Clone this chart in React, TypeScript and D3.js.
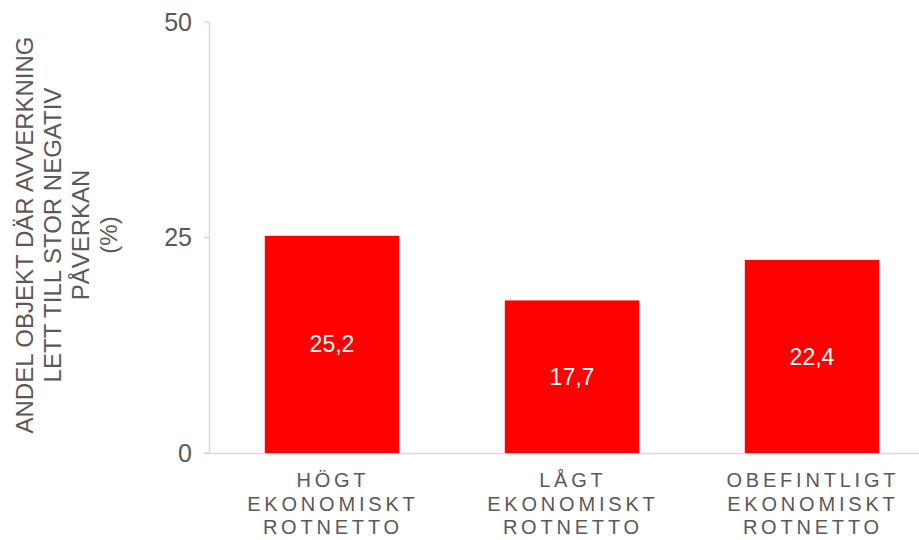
import React from 'react';
import * as d3 from 'd3';

const categories = ['HÖGT EKONOMISKT ROTNETTO', 'LÅGT EKONOMISKT ROTNETTO', 'OBEFINTLIGT EKONOMISKT ROTNETTO'];
const categoryLines = [
  ['HÖGT', 'EKONOMISKT', 'ROTNETTO'],
  ['LÅGT', 'EKONOMISKT', 'ROTNETTO'],
  ['OBEFINTLIGT', 'EKONOMISKT', 'ROTNETTO']
];
const values = [25.2, 17.7, 22.4];
const yTicks = [0, 25, 50];
const yTitleLines = ['ANDEL OBJEKT DÄR AVVERKNING', 'LETT TILL STOR NEGATIV', 'PÅVERKAN', '(%)'];

const width = 919;
const height = 540;
const font = '"Liberation Sans", Arial, sans-serif';
const gray = '#595959';
const axisColor = '#d9d9d9';

const App: React.FC = () => {
  const x = d3.scaleBand<string>()
    .domain(categories)
    .range([212, 932])
    .paddingInner(0.44)
    .paddingOuter(0.22);

  const y = d3.scaleLinear()
    .domain([0, 50])
    .range([453, 22]);

  const fmt = (v: number) => v.toFixed(1).replace('.', ',');
  const spacing = 3.8;

  return (
    <svg width={width} height={height} style={{ display: 'block', position: 'absolute', left: 0, top: 0, background: 'white' }}>
      {/* y axis */}
      <line x1={209.5} x2={209.5} y1={y(50)} y2={y(0)} stroke={axisColor} strokeWidth={1.5} />
      {yTicks.map(t => (
        <g key={t}>
          <line x1={204} x2={209.5} y1={y(t)} y2={y(t)} stroke={axisColor} strokeWidth={1.5} />
          <text x={192} y={y(t)} dy="0.35em" textAnchor="end" fontFamily={font} fontSize={25} fill={gray}>{t}</text>
        </g>
      ))}
      {/* x axis */}
      <line x1={204} x2={width} y1={y(0) + 0.5} y2={y(0) + 0.5} stroke={axisColor} strokeWidth={1.5} />

      {/* bars */}
      {categories.map((c, i) => (
        <g key={c}>
          <rect x={x(c)} y={y(values[i])} width={x.bandwidth()} height={y(0) - y(values[i])} fill="#ff0000" />
          <text
            x={(x(c) ?? 0) + x.bandwidth() / 2}
            y={(y(values[i]) + y(0)) / 2}
            dy="0.35em"
            textAnchor="middle"
            fontFamily={font}
            fontSize={23}
            fill="white"
          >{fmt(values[i])}</text>
          {categoryLines[i].map((line, j) => (
            <text
              key={j}
              x={(x(c) ?? 0) + x.bandwidth() / 2 + spacing / 2 - 1}
              y={487 + j * 23.5}
              textAnchor="middle"
              fontFamily={font}
              fontSize={20}
              letterSpacing={spacing}
              fill={gray}
            >{line}</text>
          ))}
        </g>
      ))}

      {/* y title */}
      <g transform="translate(25,235) rotate(-90)">
        {yTitleLines.map((line, j) => (
          <text
            key={j}
            x={0}
            y={j * 27.7}
            dy="0.35em"
            textAnchor="middle"
            fontFamily={font}
            fontSize={24}
            fill={gray}
          >{line}</text>
        ))}
      </g>
    </svg>
  );
};

export default App;
